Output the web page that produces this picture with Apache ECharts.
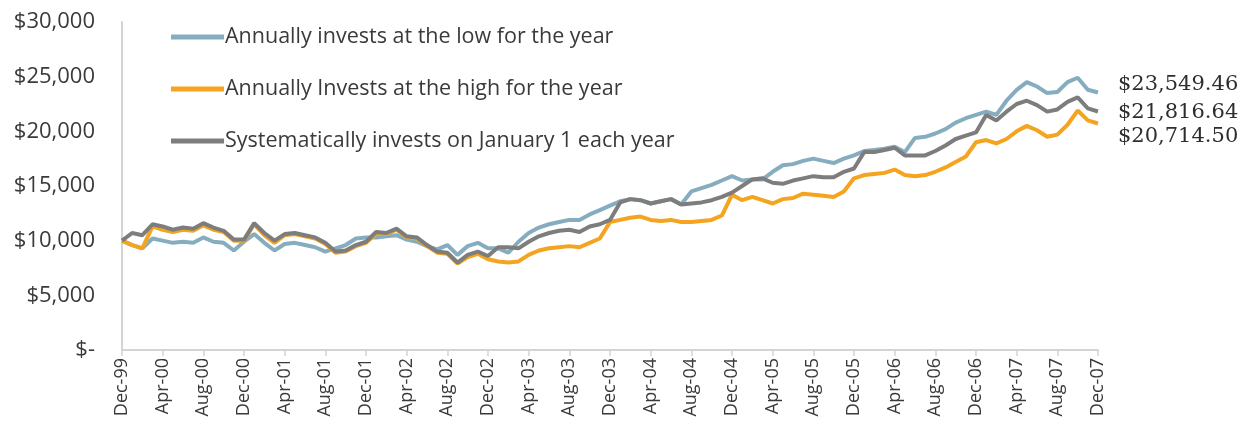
<!DOCTYPE html>
<html>
<head>
<meta charset="utf-8">
<script src="https://cdn.jsdelivr.net/npm/echarts@6/dist/echarts.min.js"></script>
<style>
  html, body { margin: 0; padding: 0; background: #fff; }
  #chart { width: 1243px; height: 439px; }
</style>
</head>
<body>
<div id="chart"></div>
<script>
// monthly labels Dec-99 .. Dec-07
const MONTHS = ['Jan', 'Feb', 'Mar', 'Apr', 'May', 'Jun', 'Jul', 'Aug', 'Sep', 'Oct', 'Nov', 'Dec']
const categories = ['Dec-99']
for (let y = 0; y <= 7; y++) {
  for (let m = 0; m < 12; m++) categories.push(MONTHS[m] + '-0' + y)
}

const seriesNames = [
  'Annually invests at the low for the year',
  'Annually Invests at the high for the year',
  'Systematically invests on January 1 each year',
]

const lowValues = [
  10000, 9600, 9300, 10200, 10000, 9800, 9900, 9800, 10300, 9900, 9800, 9100,
  9900, 10600, 9800, 9100, 9700, 9800, 9600, 9400, 9000, 9300, 9600, 10200,
  10300, 10300, 10400, 10500, 10100, 9900, 9500, 9200, 9600, 8700, 9500, 9800,
  9300, 9300, 8900, 9900, 10700, 11200, 11500, 11700, 11900, 11900, 12400, 12800,
  13200, 13600, 13800, 13700, 13400, 13600, 13800, 13300, 14500, 14800, 15100, 15500,
  15900, 15500, 15600, 15600, 16300, 16900, 17000, 17300, 17500, 17300, 17100, 17500,
  17800, 18200, 18300, 18400, 18600, 18100, 19400, 19500, 19800, 20200, 20800, 21200,
  21500, 21800, 21500, 22800, 23800, 24500, 24100, 23500, 23600, 24500, 24900, 23800,
  23549.46,
]

const highValues = [
  10000, 9600, 9300, 11300, 11000, 10800, 11000, 10900, 11400, 11000, 10800, 10000,
  10000, 11500, 10500, 9800, 10500, 10600, 10400, 10200, 9700, 8900, 9000, 9500,
  9800, 10600, 10600, 11000, 10300, 10200, 9500, 8900, 8800, 7900, 8500, 8800,
  8300, 8100, 8000, 8100, 8700, 9100, 9300, 9400, 9500, 9400, 9800, 10200,
  11700, 11900, 12100, 12200, 11900, 11800, 11900, 11700, 11700, 11800, 11900, 12300,
  14200, 13700, 14000, 13700, 13400, 13800, 13900, 14300, 14200, 14100, 14000, 14500,
  15700, 16000, 16100, 16200, 16500, 16000, 15900, 16000, 16300, 16700, 17200, 17700,
  19000, 19200, 18900, 19300, 20000, 20500, 20100, 19500, 19700, 20600, 21900, 21000,
  20714.50,
]

const janValues = [
  10000, 10700, 10500, 11500, 11300, 11000, 11200, 11100, 11600, 11200, 10900, 10100,
  10100, 11600, 10700, 10000, 10600, 10700, 10500, 10300, 9800, 9000, 9100, 9600,
  9900, 10800, 10700, 11100, 10400, 10300, 9600, 9000, 8900, 8000, 8700, 9000,
  8600, 9400, 9400, 9300, 9900, 10400, 10700, 10900, 11000, 10800, 11300, 11500,
  11900, 13500, 13800, 13700, 13400, 13600, 13800, 13300, 13400, 13500, 13700, 14000,
  14400, 15000, 15600, 15700, 15300, 15200, 15500, 15700, 15900, 15800, 15800, 16300,
  16600, 18100, 18100, 18300, 18500, 17800, 17800, 17800, 18200, 18700, 19300, 19600,
  19900, 21500, 21000, 21800, 22500, 22800, 22400, 21800, 22000, 22700, 23100, 22100,
  21816.64,
]

const yTicks = [0, 5000, 10000, 15000, 20000, 25000, 30000]
const colors = ['#86adbf', '#f4a41f', '#7d7d7d']
const endOffsets = [[12, -8], [12, 13], [12, 1]]

const chart = echarts.init(document.getElementById('chart'))

function money(v) {
  return '$' + v.toLocaleString('en-US', { minimumFractionDigits: 2, maximumFractionDigits: 2 })
}

const allValues = [lowValues, highValues, janValues]

chart.setOption({
  animation: false,
  backgroundColor: '#fff',
  textStyle: { fontFamily: 'Open Sans' },
  legend: {
    orient: 'vertical',
    left: 166,
    top: 20,
    itemWidth: 53,
    itemHeight: 5,
    itemGap: 28,
    icon: 'rect',
    data: seriesNames,
    textStyle: { color: '#3a3a3a', fontSize: 21.5, fontFamily: 'Open Sans', lineHeight: 24, padding: [0, 0, 0, -4] },
  },
  grid: { left: 122, right: 145, top: 22, bottom: 89 },
  xAxis: {
    type: 'category',
    data: categories,
    boundaryGap: false,
    axisLine: { lineStyle: { color: '#d4d4d4', width: 2 } },
    axisTick: { interval: 3, length: 6, lineStyle: { color: '#d4d4d4', width: 1.5 } },
    axisLabel: {
      interval: 3,
      rotate: 90,
      margin: 8,
      color: '#3a3a3a',
      fontSize: 18,
      fontFamily: 'Open Sans',
    },
    splitLine: { show: false },
  },
  yAxis: {
    type: 'value',
    min: yTicks[0],
    max: yTicks[yTicks.length - 1],
    interval: 5000,
    axisLine: { show: true, lineStyle: { color: '#d4d4d4', width: 2 } },
    axisTick: { show: false },
    splitLine: { show: false },
    axisLabel: {
      margin: 27,
      color: '#3a3a3a',
      fontSize: 22,
      fontFamily: 'Open Sans',
      formatter: v => v === 0 ? '$-' : '$' + v.toLocaleString('en-US'),
    },
  },
  series: allValues.map((vals, i) => ({
    name: seriesNames[i],
    type: 'line',
    data: vals,
    showSymbol: false,
    color: colors[i],
    lineStyle: { width: 4, color: colors[i] },
    endLabel: {
      show: true,
      offset: endOffsets[i],
      color: '#2e2e2e',
      fontSize: 21,
      fontFamily: 'DejaVu Serif',
      formatter: p => money(p.value),
    },
  })),
})
</script>
</body>
</html>
